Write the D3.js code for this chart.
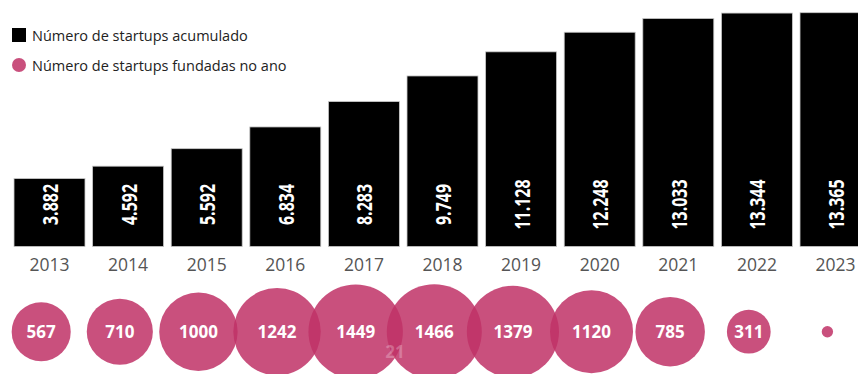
<!DOCTYPE html>
<html>
<head>
<meta charset="utf-8">
<script src="https://cdn.jsdelivr.net/npm/d3@7"></script>
<style>
	body { margin: 0; background: #fff; font-family: "Open Sans", sans-serif; }
	svg { display: block; }
</style>
</head>
<body>
<script>
//chart data
var years = ["2013","2014","2015","2016","2017","2018","2019","2020","2021","2022","2023"];
var accumulated = [3882, 4592, 5592, 6834, 8283, 9749, 11128, 12248, 13033, 13344, 13365];
var founded = [567, 710, 1000, 1242, 1449, 1466, 1379, 1120, 785, 311, 21];
var legendLabels = ["Número de startups acumulado", "Número de startups fundadas no ano"];

//some definitions
var width = 858,
	height = 374,
	pink = "rgb(191,49,102)";

//number format with dot as thousands separator
var ptBR = d3.formatLocale({decimal: ",", thousands: ".", grouping: [3], currency: ["R$", ""]});
var fmt = ptBR.format(",");

var svg = d3.select("body").append("svg")
	.attr("width", width)
	.attr("height", height);

//////////////
// scales
//////////////
var xBand = d3.scaleBand()
	.domain(years)
	.range([10.2, 874.8])
	.paddingInner(0.097)
	.paddingOuter(0.0485);

var yBar = d3.scaleLinear()
	.domain([0, 13365])
	.range([246.5, 12.7]);

var xCircle = d3.scalePoint()
	.domain(years)
	.range([41.2, 827.4]);

var rScale = d3.scaleSqrt()
	.domain([0, 1466])
	.range([0, 47.5]);

//////////////
// bars
//////////////
var bars = svg.append("g").attr("class", "bars");
bars.selectAll("rect")
	.data(accumulated).enter()
		.append("rect")
		.attr("x", function(d, i) { return xBand(years[i]); })
		.attr("y", function(d) { return yBar(d); })
		.attr("width", xBand.bandwidth())
		.attr("height", function(d) { return yBar(0) - yBar(d); })
		.style("fill", "#000")
		.style("stroke", "#c8c8c8")
		.style("stroke-width", 0.8);

//value labels inside the bars (rotated)
bars.selectAll("text")
	.data(accumulated).enter()
		.append("text")
		.attr("transform", function(d, i) {
			return "translate(" + (xBand(years[i]) + xBand.bandwidth()/2) + "," + (yBar(0) - 42) + ") rotate(-90) scale(0.76,1)";
		})
		.attr("text-anchor", "middle")
		.attr("dominant-baseline", "central")
		.style("fill", "#fff")
		.style("font-weight", 700)
		.style("font-size", "21px")
		.text(function(d) { return fmt(d); });

//year axis
var xAxis = d3.axisBottom(xBand).tickSize(0).tickPadding(0);
var gX = svg.append("g")
	.attr("class", "axis")
	.attr("transform", "translate(0," + (yBar(0) + 12) + ")")
	.call(xAxis);
gX.select(".domain").remove();
gX.selectAll("text")
	.attr("dy", "0.71em")
	.style("font-family", "'Open Sans', sans-serif")
	.style("font-size", "17.5px")
	.style("fill", "#555");

//////////////
// circles
//////////////
var cy = 331.7;
var circles = svg.append("g").attr("class", "circles");
circles.selectAll("circle")
	.data(founded).enter()
		.append("circle")
		.attr("cx", function(d, i) { return xCircle(years[i]); })
		.attr("cy", cy)
		.attr("r", function(d) { return rScale(d); })
		.style("fill", pink)
		.style("fill-opacity", 0.85);

//labels for all but the tiny last circle
circles.selectAll("text")
	.data(founded.slice(0, -1)).enter()
		.append("text")
		.attr("x", function(d, i) { return xCircle(years[i]); })
		.attr("y", cy)
		.attr("text-anchor", "middle")
		.attr("dominant-baseline", "central")
		.style("fill", "#fff")
		.style("font-weight", 700)
		.style("font-size", "17px")
		.text(function(d) { return d; });

//the last value's label ends up faint, between 2017 and 2018
circles.append("text")
	.attr("x", (xCircle("2017") + xCircle("2018"))/2)
	.attr("y", cy + 20)
	.attr("text-anchor", "middle")
	.attr("dominant-baseline", "central")
	.style("fill", "#fff")
	.style("fill-opacity", 0.25)
	.style("font-weight", 700)
	.style("font-size", "17px")
	.text(founded[founded.length - 1]);

//////////////
// legend
//////////////
var legend = svg.append("g").attr("class", "legend");
legend.append("rect")
	.attr("x", 12).attr("y", 28)
	.attr("width", 14).attr("height", 14)
	.style("fill", "#000");
legend.append("circle")
	.attr("cx", 19).attr("cy", 65)
	.attr("r", 7)
	.style("fill", pink)
	.style("fill-opacity", 0.85);
legend.selectAll("text")
	.data(legendLabels).enter()
		.append("text")
		.attr("x", 32)
		.attr("y", function(d, i) { return 35 + i*30; })
		.attr("dominant-baseline", "central")
		.style("font-size", "14.5px")
		.style("fill", "#222")
		.text(function(d) { return d; });
</script>
</body>
</html>
